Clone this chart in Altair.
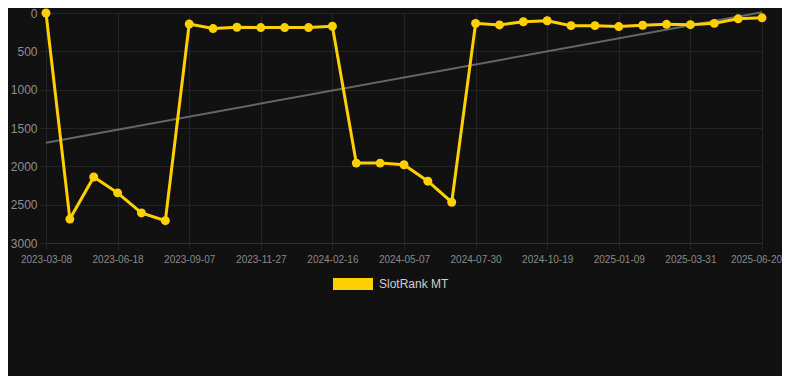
import json
import altair as alt
import pandas as pd

# ---- data ----
dates = [
    "2023-03-08", "2023-04-11", "2023-05-15", "2023-06-18", "2023-07-15", "2023-08-11",
    "2023-09-07", "2023-10-04", "2023-10-31", "2023-11-27", "2023-12-24", "2024-01-20",
    "2024-02-16", "2024-03-14", "2024-04-10", "2024-05-07", "2024-06-04", "2024-07-02",
    "2024-07-30", "2024-08-26", "2024-09-22", "2024-10-19", "2024-11-15", "2024-12-12",
    "2025-01-09", "2025-02-05", "2025-03-04", "2025-03-31", "2025-04-27", "2025-05-24",
    "2025-06-20",
]
ranks = [
    0, 2688, 2139, 2346, 2608, 2709,
    143, 203, 186, 190, 190, 190,
    173, 1958, 1958, 1979, 2194, 2468,
    135, 156, 114, 101, 165, 165,
    177, 160, 148, 152, 135, 76,
    63,
]
y_ticks = [0, 500, 1000, 1500, 2000, 2500, 3000]
x_tick_idx = list(range(0, len(dates), 3))
series_name = "SlotRank MT"

YELLOW = "#FFD000"
BG = "#111111"
GRID = "#242424"
FONT = "Liberation Sans"

df = pd.DataFrame({
    "idx": list(range(len(dates))),
    "date": dates,
    "rank": ranks,
    "series": [series_name] * len(dates),
})

label_expr = json.dumps(dates) + "[datum.value]"
last_idx = len(dates) - 1

x = alt.X(
    "idx:Q",
    scale=alt.Scale(domain=[0, last_idx], nice=False, zero=False),
    axis=alt.Axis(
        values=x_tick_idx, labelExpr=label_expr, title=None,
        grid=True, gridColor=GRID, ticks=True, tickColor=GRID, tickSize=6,
        labelPadding=5, labelFontSize=10, labelColor="#8a8a8a", labelFont=FONT,
        domain=True, domainColor="#2e2e2e", labelAngle=0, labelFlush=False,
        labelOffset={"condition": {"test": f"datum.value == {last_idx}", "value": -6}, "value": 0},
    ),
)
y = alt.Y(
    "rank:Q",
    scale=alt.Scale(domain=[0, 3000], reverse=True, nice=False, zero=False),
    axis=alt.Axis(
        values=y_ticks, format="d", title=None, grid=True, gridColor=GRID,
        ticks=True, tickColor=GRID, tickSize=6, labelPadding=3,
        labelFontSize=12, labelColor="#8f8f8f", labelFont=FONT, domain=False,
    ),
)

base = alt.Chart(df)

trend = base.transform_regression("idx", "rank").mark_line(
    color="#666666", strokeWidth=2
).encode(x=x, y=y)

line = base.mark_line(color=YELLOW, strokeWidth=3).encode(x=x, y=y)

points = base.mark_point(filled=True, size=80, opacity=1).encode(
    x=x,
    y=y,
    color=alt.Color(
        "series:N",
        scale=alt.Scale(domain=[series_name], range=[YELLOW]),
        legend=alt.Legend(
            title=None, orient="none", legendX=287, legendY=251,
            symbolType="M-1,-0.3H1V0.3H-1Z", symbolSize=1600,
            symbolStrokeWidth=0, labelFontSize=12, labelColor="#d0d0d0",
            labelFont=FONT, labelOffset=6, padding=0,
        ),
    ),
)

chart = alt.layer(trend, line, points).properties(
    width=716,
    height=230,
    padding={"left": 38, "top": 5, "right": 20, "bottom": 133},
    autosize=alt.AutoSizeParams(type="none"),
    background=BG,
).configure_view(stroke=None)

chart.save("out.html", embed_options={"renderer": "svg", "actions": False})
